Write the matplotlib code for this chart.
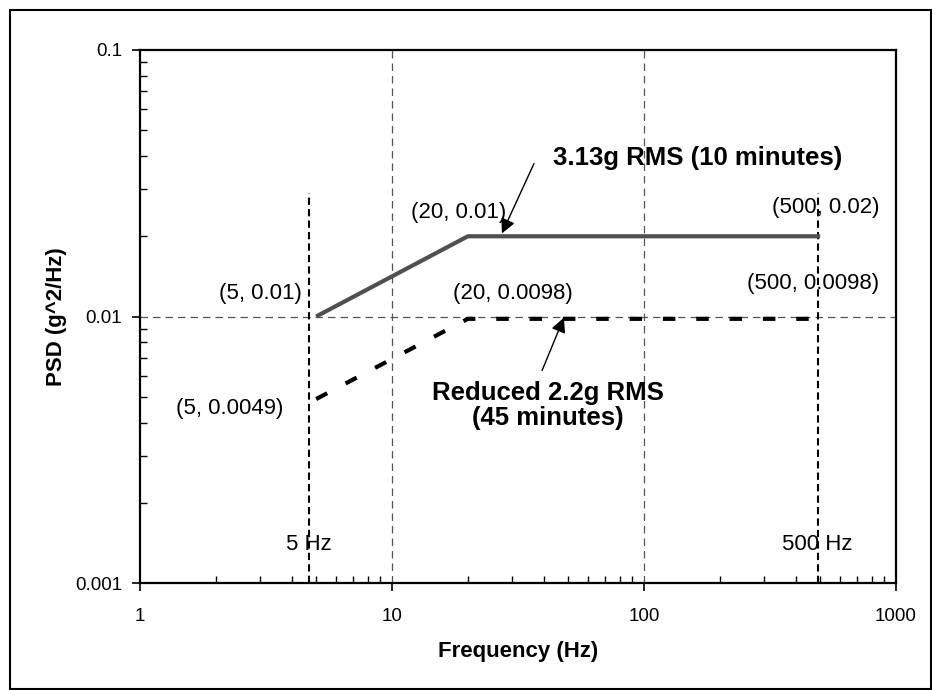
import matplotlib
matplotlib.use('Agg')
import matplotlib.pyplot as plt
from matplotlib.patches import Rectangle

plt.rcParams['font.family'] = ['Liberation Sans', 'DejaVu Sans']

# vibration profiles (frequency in Hz, PSD in g^2/Hz)
full_freq = [5, 20, 500]
full_psd = [0.01, 0.02, 0.02]
reduced_freq = [5, 20, 500]
reduced_psd = [0.0049, 0.0098, 0.0098]

# band limit marker lines
band_freq = [4.7, 490]
band_top = 0.029
band_labels = ["5 Hz", "500 Hz"]

x_ticks = [1, 10, 100, 1000]
x_ticklabels = ["1", "10", "100", "1000"]
y_ticks = [0.001, 0.01, 0.1]
y_ticklabels = ["0.001", "0.01", "0.1"]

point_labels = [
    ("(5, 0.01)", 4.39, 0.0122, 'right'),
    ("(20, 0.01)", 18.4, 0.0246, 'center'),
    ("(20, 0.0098)", 30.1, 0.0122, 'center'),
    ("(500, 0.02)", 527, 0.0257, 'center'),
    ("(500, 0.0098)", 469, 0.0133, 'center'),
    ("(5, 0.0049)", 3.69, 0.00452, 'right'),
]

fig = plt.figure(figsize=(9.32, 6.9), dpi=100)
ax = fig.add_axes([140 / 932, 1 - 583 / 690, 756 / 932, 533 / 690])
ax.set_xscale('log')
ax.set_yscale('log')
ax.set_xlim(1, 1000)
ax.set_ylim(0.001, 0.1)

# dashed grid at inner decades only
for gx in [10, 100]:
    ax.axvline(gx, color='#555555', lw=0.9, linestyle=(0, (6, 4)), zorder=1)
ax.axhline(0.01, color='#555555', lw=0.9, linestyle=(0, (6, 4)), zorder=1)

# band limit lines
for f, lab in zip(band_freq, band_labels):
    ax.plot([f, f], [0.001, band_top], color='black', lw=1.5,
            linestyle=(0, (3.5, 2)), zorder=2)
    ax.text(f * 0.995, 0.00139, lab, fontsize=16, ha='center', va='center')

ax.plot(full_freq, full_psd, color='#505050', lw=3, solid_capstyle='butt', zorder=3)
ax.plot(reduced_freq, reduced_psd, color='black', lw=3,
        linestyle=(0, (3, 5)), zorder=3)

for txt, x, y, ha in point_labels:
    ax.text(x, y, txt, fontsize=16, ha=ha, va='center')

# callouts
arrow = dict(arrowstyle='-|>', color='black', lw=1, mutation_scale=22,
             shrinkA=0, shrinkB=0)
ax.text(163, 0.0392, "3.13g RMS (10 minutes)", fontsize=18.5,
        fontweight='bold', ha='center', va='center')
ax.annotate("", xy=(27.3, 0.0205), xytext=(36.6, 0.0375), arrowprops=arrow)

ax.text(41.6, 0.00465, "Reduced 2.2g RMS\n(45 minutes)", fontsize=18.5,
        fontweight='bold', ha='center', va='center', linespacing=1.05)
ax.annotate("", xy=(48.1, 0.0099), xytext=(39.4, 0.00627), arrowprops=arrow)

ax.set_xticks(x_ticks)
ax.set_xticklabels(x_ticklabels)
ax.set_yticks(y_ticks)
ax.set_yticklabels(y_ticklabels)
ax.tick_params(which='major', direction='out', length=6, width=1.2,
               labelsize=13.5, color='black')
ax.tick_params(axis='x', which='major', pad=12)
ax.tick_params(axis='y', which='major', pad=7)
ax.tick_params(which='minor', direction='in', length=5, width=1.0, color='black')
ax.xaxis.set_minor_formatter(matplotlib.ticker.NullFormatter())
ax.yaxis.set_minor_formatter(matplotlib.ticker.NullFormatter())

for s in ax.spines.values():
    s.set_linewidth(1.6)
    s.set_color('black')

ax.set_xlabel("Frequency (Hz)", fontsize=16, fontweight='bold')
ax.set_ylabel("PSD (g^2/Hz)", fontsize=16, fontweight='bold')
ax.xaxis.set_label_coords(0.5, -0.129)
ax.yaxis.set_label_coords(-0.110, 0.5)
ax.xaxis.label.set_va('center')
ax.yaxis.label.set_va('center')

# outer frame round the whole chart
fig.patches.append(Rectangle((10 / 932, 1 / 690), 921 / 932, 679 / 690,
                             transform=fig.transFigure, fill=False,
                             edgecolor='black', lw=1.5))

fig.savefig('out.png', dpi=100)
plt.close(fig)
